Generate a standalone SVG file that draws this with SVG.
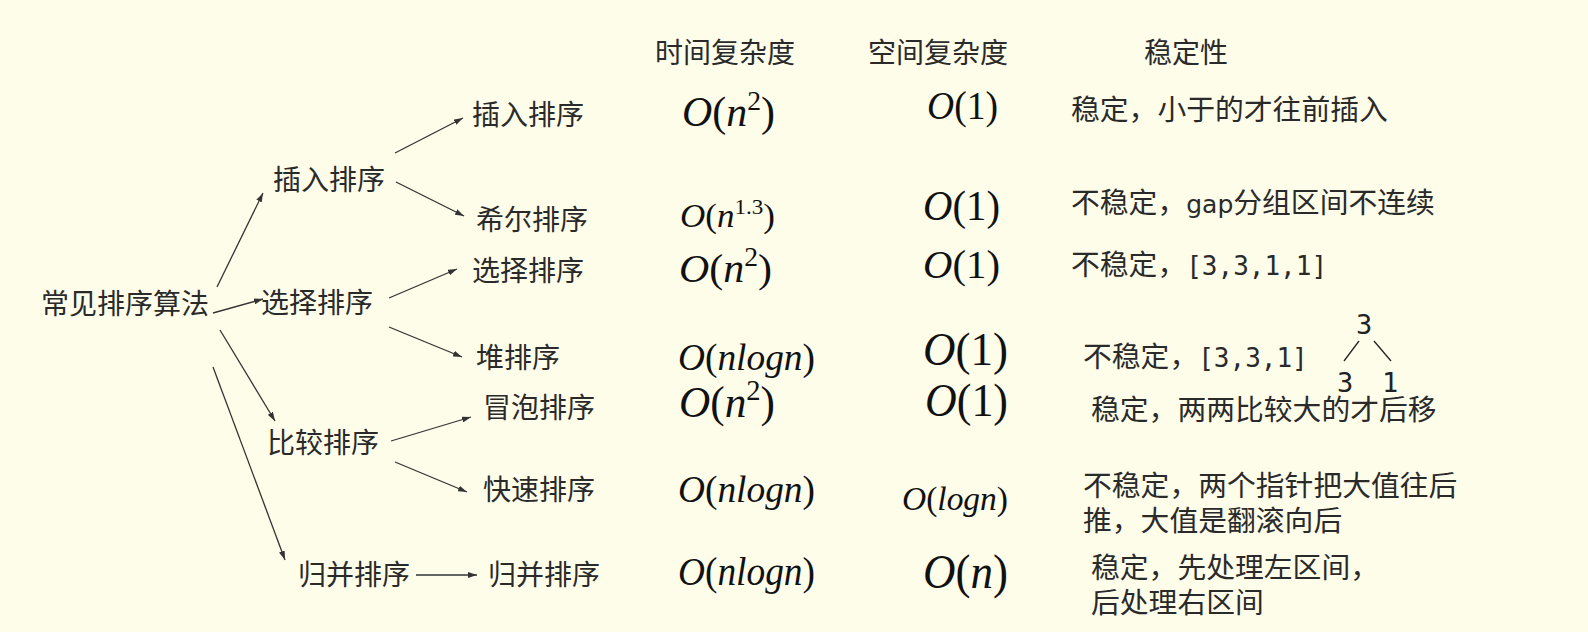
<svg xmlns="http://www.w3.org/2000/svg" width="1588" height="632" viewBox="0 0 1588 632">
<defs>
<style>
.cn{font-family:"Noto Sans CJK SC","Noto Sans",sans-serif;font-size:28px;fill:#2a2a2a}
.cm{font-family:"Noto Sans CJK SC","Noto Sans",sans-serif;font-size:28.8px;fill:#2a2a2a}
.mono{font-family:"DejaVu Sans Mono","Liberation Mono",monospace;font-size:26px}
.dig{font-family:"DejaVu Sans Mono","Liberation Mono",monospace;font-size:27px;fill:#222}
.m{font-family:"Liberation Serif",serif;fill:#111}
.i{font-style:italic}
.sup{font-size:66%}
.con line{stroke:#333;stroke-width:1.3;fill:none}
</style>
<marker id="ah" viewBox="0 0 9 6" refX="9" refY="3" markerWidth="9" markerHeight="6" markerUnits="userSpaceOnUse" orient="auto">
<path d="M0,0 L9,3 L0,6 z" fill="#333"/>
</marker>
</defs>
<rect width="1588" height="632" fill="#fefdea"/>

<g id="headers">
<text class="cn" x="655" y="63">时间复杂度</text>
<text class="cn" x="868" y="63">空间复杂度</text>
<text class="cn" x="1144" y="63">稳定性</text>
</g>

<g id="n-root"><text class="cn" x="41" y="314">常见排序算法</text></g>
<g id="n-insert"><text class="cn" x="273" y="190">插入排序</text></g>
<g id="n-select"><text class="cn" x="261" y="313">选择排序</text></g>
<g id="n-compare"><text class="cn" x="267" y="453">比较排序</text></g>
<g id="n-merge"><text class="cn" x="298" y="585">归并排序</text></g>

<g id="n-insert2"><text class="cn" x="472" y="125">插入排序</text></g>
<g id="n-shell"><text class="cn" x="476" y="230">希尔排序</text></g>
<g id="n-select2"><text class="cn" x="472" y="281">选择排序</text></g>
<g id="n-heap"><text class="cn" x="476" y="368">堆排序</text></g>
<g id="n-bubble"><text class="cn" x="483" y="418">冒泡排序</text></g>
<g id="n-quick"><text class="cn" x="483" y="500">快速排序</text></g>
<g id="n-merge2"><text class="cn" x="488" y="585">归并排序</text></g>

<g id="connectors" class="con">
<line x1="217" y1="287" x2="263" y2="193" marker-end="url(#ah)"/>
<line x1="213" y1="313" x2="263" y2="299" marker-end="url(#ah)"/>
<line x1="220" y1="330" x2="275" y2="421" marker-end="url(#ah)"/>
<line x1="213" y1="367" x2="285" y2="560" marker-end="url(#ah)"/>
<line x1="395" y1="153" x2="463" y2="118" marker-end="url(#ah)"/>
<line x1="396" y1="182" x2="464" y2="216" marker-end="url(#ah)"/>
<line x1="389" y1="298" x2="457" y2="269" marker-end="url(#ah)"/>
<line x1="389" y1="327" x2="462" y2="357" marker-end="url(#ah)"/>
<line x1="391" y1="441" x2="471" y2="417" marker-end="url(#ah)"/>
<line x1="395" y1="462" x2="467" y2="492" marker-end="url(#ah)"/>
<line x1="416" y1="575" x2="477" y2="575" marker-end="url(#ah)"/>
</g>

<g id="row-insert">
<text class="m" x="682" y="126" font-size="42" textLength="93" lengthAdjust="spacingAndGlyphs"><tspan class="i">O</tspan>(<tspan class="i">n</tspan><tspan class="sup" dy="-16">2</tspan><tspan dy="16">)</tspan></text>
<text class="m" x="927" y="119" font-size="41" textLength="71" lengthAdjust="spacingAndGlyphs"><tspan class="i">O</tspan>(1)</text>
<text class="cm" x="1071" y="120">稳定，小于的才往前插入</text>
</g>

<g id="row-shell">
<text class="m" x="680" y="227" font-size="33" textLength="95" lengthAdjust="spacingAndGlyphs"><tspan class="i">O</tspan>(<tspan class="i">n</tspan><tspan class="sup" dy="-13">1.3</tspan><tspan dy="13">)</tspan></text>
<text class="m" x="923" y="220" font-size="43" textLength="77" lengthAdjust="spacingAndGlyphs"><tspan class="i">O</tspan>(1)</text>
<text class="cm" x="1071" y="213">不稳定，<tspan font-family="DejaVu Sans" font-size="25">gap</tspan>分组区间不连续</text>
</g>

<g id="row-select">
<text class="m" x="679" y="282" font-size="41" textLength="93" lengthAdjust="spacingAndGlyphs"><tspan class="i">O</tspan>(<tspan class="i">n</tspan><tspan class="sup" dy="-16">2</tspan><tspan dy="16">)</tspan></text>
<text class="m" x="923" y="278" font-size="41" textLength="77" lengthAdjust="spacingAndGlyphs"><tspan class="i">O</tspan>(1)</text>
<text class="cm" x="1071" y="275">不稳定，<tspan class="mono">[3,3,1,1]</tspan></text>
</g>

<g id="row-heap">
<text class="m" x="678" y="370" font-size="37" textLength="137" lengthAdjust="spacingAndGlyphs"><tspan class="i">O</tspan>(<tspan class="i">nlogn</tspan>)</text>
<text class="m" x="923" y="365" font-size="46" textLength="85" lengthAdjust="spacingAndGlyphs"><tspan class="i">O</tspan>(1)</text>
<text class="cm" x="1083" y="367">不稳定，<tspan class="mono">[3,3,1]</tspan></text>
</g>

<g id="heap-tree">
<text class="dig" x="1356" y="334">3</text>
<line x1="1359" y1="341" x2="1344" y2="361" stroke="#222" stroke-width="1.3"/>
<line x1="1374" y1="341" x2="1391" y2="361" stroke="#222" stroke-width="1.3"/>
<text class="dig" x="1337" y="392">3</text>
<text class="dig" x="1382" y="392">1</text>
</g>

<g id="row-bubble">
<text class="m" x="679" y="417" font-size="45" textLength="96" lengthAdjust="spacingAndGlyphs"><tspan class="i">O</tspan>(<tspan class="i">n</tspan><tspan class="sup" dy="-17">2</tspan><tspan dy="17">)</tspan></text>
<text class="m" x="925" y="416" font-size="46" textLength="83" lengthAdjust="spacingAndGlyphs"><tspan class="i">O</tspan>(1)</text>
<text class="cm" x="1091" y="420">稳定，两两比较大的才后移</text>
</g>

<g id="row-quick">
<text class="m" x="678" y="502" font-size="38" textLength="137" lengthAdjust="spacingAndGlyphs"><tspan class="i">O</tspan>(<tspan class="i">nlogn</tspan>)</text>
<text class="m" x="902" y="510" font-size="33" textLength="106" lengthAdjust="spacingAndGlyphs"><tspan class="i">O</tspan>(<tspan class="i">logn</tspan>)</text>
<text class="cm" x="1083" y="496">不稳定，两个指针把大值往后</text>
<text class="cm" x="1083" y="531">推，大值是翻滚向后</text>
</g>

<g id="row-merge">
<text class="m" x="678" y="585" font-size="39" textLength="137" lengthAdjust="spacingAndGlyphs"><tspan class="i">O</tspan>(<tspan class="i">nlogn</tspan>)</text>
<text class="m" x="923" y="588" font-size="48" textLength="85" lengthAdjust="spacingAndGlyphs"><tspan class="i">O</tspan>(<tspan class="i">n</tspan>)</text>
<text class="cm" x="1091" y="578">稳定，先处理左区间，</text>
<text class="cm" x="1091" y="613">后处理右区间</text>
</g>
</svg>
